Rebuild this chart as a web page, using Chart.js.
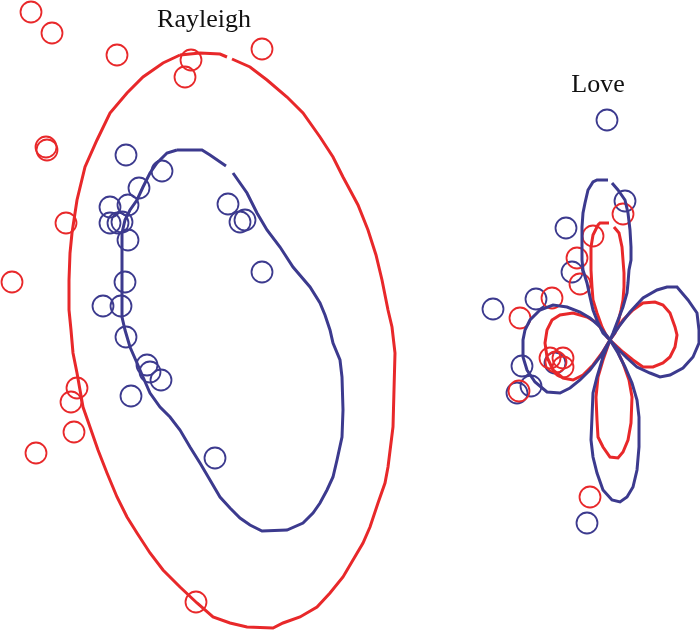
<!DOCTYPE html>
<html>
<head>
<meta charset="utf-8">
<script src="https://cdn.jsdelivr.net/npm/chart.js@4/dist/chart.umd.min.js"></script>
<style>
html,body{margin:0;padding:0;background:#fff;}
#wrap{width:700px;height:631px;}
</style>
</head>
<body>
<div id="wrap"><canvas id="c" width="700" height="631"></canvas></div>
<script>
// Plot space: x 0..700, y 0..631 (y downwards)
const titles = ['Rayleigh', 'Love'];
const titleX = [204, 598];
const titleY = [27, 92];

// Rayleigh red (outer) pattern contour
const rayleighRedCurve = [[180,55],[200,53],[220,54],[227,57],null,[232,59],[250,67],[267,80],[287,97],[303,113],[320,137],[333,157],[343,177],[350,190],[358,205],[368,230],[376,255],[382,280],[388,310],[392,327],[395,353],[394,390],[393,427],[388,467],[385,483],[378,503],[370,527],[363,543],[353,560],[343,577],[330,593],[317,607],[300,617],[283,623],[273,628],[247,627],[230,623],[213,617],[197,603],[180,587],[163,570],[150,553],[137,533],[127,517],[117,497],[107,473],[98,450],[90,427],[83,407],[80,390],[77,373],[73,353],[71,330],[69,310],[69,280],[70,253],[72,233],[77,200],[85,167],[97,140],[110,113],[127,93],[143,77],[163,63],[180,55]];
// Rayleigh blue (inner) pattern contour
const rayleighBlueCurve = [[177,150],[202,150],[210,155],[226,166],null,[233,173],[247,193],[257,213],[267,230],[280,247],[293,267],[310,287],[320,303],[325,315],[330,330],[333,343],[340,360],[342,377],[343,410],[342,437],[337,460],[333,477],[327,490],[320,503],[313,513],[303,523],[287,530],[262,531],[250,525],[240,518],[230,508],[220,497],[210,480],[200,463],[190,447],[180,430],[170,417],[160,407],[150,393],[143,377],[137,363],[130,347],[125,330],[122,317],[122,233],[125,220],[130,210],[137,200],[143,187],[150,173],[157,163],[167,153],[177,150]];
// Love blue contour (four lobes through the centre)
const loveBlueCurve = [[610,340],[603,333],[598,323],[593,310],[590,297],[587,283],[583,270],[582,260],[582,227],[583,213],[585,203],[588,190],[593,182],[597,180],[608,180],null,[612,183],[618,190],[625,200],[628,213],[630,230],[631,247],[631,260],[629,270],[628,283],[627,293],[623,307],[618,320],[613,333],[610,340],
 [620,325],[630,312],[643,298],[657,290],[667,287],[677,287],[688,300],[697,313],[699,330],[699,343],[693,357],[683,368],[670,375],[660,377],[650,373],[637,367],[627,358],[617,348],[610,340],
 [618,353],[625,367],[632,383],[637,400],[639,417],[639,447],[637,470],[633,487],[627,497],[620,502],[612,500],[603,490],[597,473],[593,457],[591,440],[592,417],[593,393],[597,377],[603,357],[610,340],
 [600,357],[590,370],[580,380],[570,388],[560,393],[547,392],[535,382],[527,370],[523,357],[523,340],[525,330],[530,320],[540,310],[553,305],[567,307],[580,312],[590,318],[600,327],[610,340]];
// Love red contour
const loveRedCurve = [[610,340],[607,337],[602,327],[597,313],[593,300],[592,287],[591,270],[591,247],[593,235],[598,225],[600,223],[609,223],null,[614,227],[619,233],[622,247],[623,260],[624,273],[624,287],[623,300],[621,310],[618,323],[615,333],[610,340],
 [623,320],[633,310],[643,303],[655,302],[663,305],[670,313],[675,327],[677,335],[675,347],[670,357],[663,363],[653,367],[643,367],[633,360],[623,352],[610,340],
 [617,350],[623,363],[629,380],[632,397],[631,423],[628,440],[623,452],[618,458],[610,457],[603,447],[598,437],[597,420],[596,397],[598,377],[603,360],[610,340],
 [602,353],[593,365],[583,375],[573,380],[563,378],[553,370],[547,357],[545,343],[547,330],[552,320],[560,315],[573,313],[587,317],[597,323],[610,340]];

// Observations (circles)
const rayleighRedObs = [[31,12],[52,33],[117,55],[191,60],[185,77],[262,49],[46,147],[47,150],[66,223],[12,282],[77,388],[71,402],[74,432],[36,453],[196,602]];
const rayleighBlueObs = [[126,155],[162,171],[139,188],[110,207],[128,205],[110,223],[118,223],[122,222],[128,240],[228,204],[240,222],[245,220],[262,272],[125,282],[103,306],[121,306],[126,337],[147,365],[150,372],[161,380],[131,396],[215,458]];
const loveRedObs = [[623,214],[593,236],[577,258],[580,284],[552,298],[520,318],[550,358],[563,358],[556,362],[563,367],[519,391],[590,497]];
const loveBlueObs = [[607,120],[625,201],[566,228],[572,272],[536,299],[493,309],[522,366],[555,363],[531,386],[517,393],[587,523]];

const RED = '#e8282a';
const BLUE = '#3c3a8e';

const toXY = arr => arr.map(p => p ? {x:p[0], y:p[1]} : {x:null, y:null});

function curve(arr, color){
  return {data: toXY(arr), showLine: true, borderColor: color, borderWidth: 3,
    pointRadius: 0, pointHoverRadius: 0, fill: false, tension: 0, spanGaps: false,
    borderJoinStyle: 'miter', clip: false};
}
function obs(arr, color){
  return {data: toXY(arr), showLine: false, pointStyle: 'circle', pointRadius: 10.5,
    pointBorderWidth: 1.8, pointBorderColor: color, pointBackgroundColor: 'rgba(0,0,0,0)',
    borderColor: color, backgroundColor: 'rgba(0,0,0,0)', clip: false};
}

const titlePlugin = {
  id: 'titles',
  afterDraw(chart){
    const ctx = chart.ctx, xs = chart.scales.x, ys = chart.scales.y;
    ctx.save();
    ctx.fillStyle = '#111';
    ctx.font = '26px "Liberation Serif", "Times New Roman", serif';
    ctx.textAlign = 'center';
    ctx.textBaseline = 'alphabetic';
    titles.forEach((t,i) => ctx.fillText(t, xs.getPixelForValue(titleX[i]), ys.getPixelForValue(titleY[i])));
    ctx.restore();
  }
};

new Chart(document.getElementById('c'), {
  type: 'scatter',
  data: {datasets: [
    curve(rayleighRedCurve, RED),
    curve(rayleighBlueCurve, BLUE),
    curve(loveBlueCurve, BLUE),
    curve(loveRedCurve, RED),
    obs(rayleighRedObs, RED),
    obs(rayleighBlueObs, BLUE),
    obs(loveRedObs, RED),
    obs(loveBlueObs, BLUE)
  ]},
  options: {
    responsive: false,
    animation: false,
    layout: {padding: 0, autoPadding: false},
    plugins: {legend: {display: false}, tooltip: {enabled: false}, title: {display: false}},
    scales: {
      x: {type: 'linear', min: 0, max: 700, display: false},
      y: {type: 'linear', min: 0, max: 631, reverse: true, display: false}
    }
  },
  plugins: [titlePlugin]
});
</script>
</body>
</html>
